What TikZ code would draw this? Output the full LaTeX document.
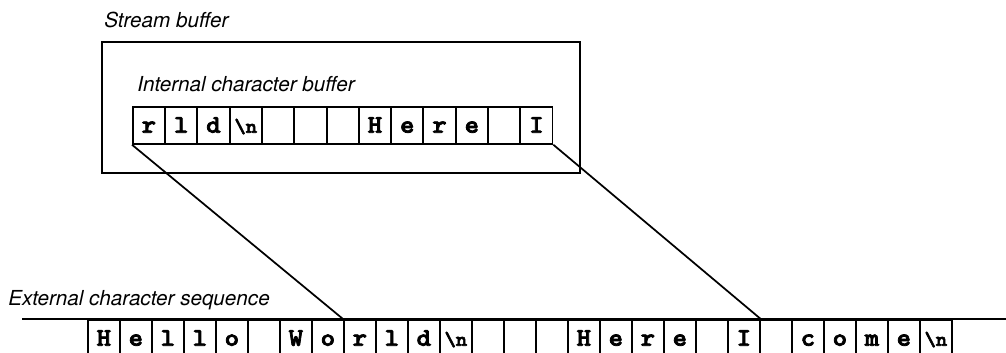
\documentclass[tikz,border=0pt]{standalone}
\usepackage{fontspec}
\setmainfont{TeX Gyre Heros}
\newfontfamily\cellfont{lmmonolt10-bold}[Extension=.otf, FakeBold=3, FakeStretch=1.08]
\usetikzlibrary{positioning, calc}

\newcommand{\bsn}{{\fontsize{15}{17}\selectfont\textbackslash n}}

\tikzset{
  label text/.style={anchor=base west, inner sep=0pt, font=\fontsize{15.5}{18}\selectfont\itshape},
  charcell/.style={draw, line width=1.3pt, anchor=north west, inner sep=0pt,
    minimum width=24pt, text height=11pt, text depth=0pt,
    font=\fontsize{19}{21}\selectfont\cellfont},
  intcell/.style={charcell, minimum height=27.75pt},
  extcell/.style={charcell, minimum height=27.75pt},
  link/.style={line width=1.3pt}
}

\begin{document}
\begin{tikzpicture}[x=0.75pt,y=0.75pt,yscale=-1,xscale=1]
\useasboundingbox (0,0) rectangle (1006,353);

% Stream buffer
\node[label text] (streamlabel) at (104,28) {Stream buffer};
\draw[line width=1.5pt] (102,42) rectangle (580,173);

% Internal character buffer
\node[label text] (intlabel) at (137,92) {Internal character buffer};
\foreach \ch [count=\i from 0] in {r,l,d,\bsn,{},{},{},H,e,r,e,{},I}
  \node[intcell] (int-\i) at ({132+32.3*\i},106) {\ch};

% External character sequence
\node[label text] (extlabel) at (8,305) {External character sequence};
\coordinate (seqstart) at (22,319);
\coordinate (seqend) at (1006,319);
\draw[line width=1.4pt] (seqstart) -- (seqend);
\foreach \ch [count=\k from 0] in {H,e,l,l,o,{},W,o,r,l,d,\bsn,{},{},{},H,e,r,e,{},I,{},c,o,m,e,\bsn}
  \node[extcell] (ext-\k) at ({87+32*\k},319) {\ch};

% mapping of the buffer onto the sequence
\draw[link] (int-0.south west) -- (ext-8.north west);
\draw[link] (int-12.south east) -- (ext-20.north east);

\end{tikzpicture}
\end{document}
